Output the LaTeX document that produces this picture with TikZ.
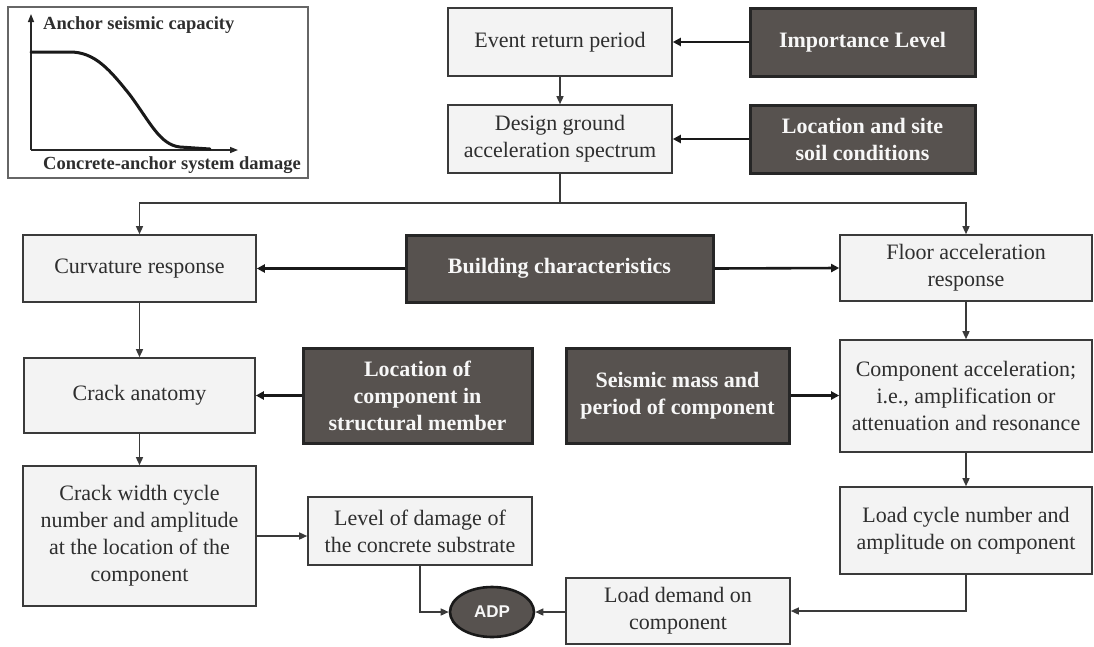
\documentclass[tikz,border=0pt]{standalone}
\usepackage{fontspec}
\setmainfont{Liberation Serif}
\newfontfamily\adpfont{Liberation Sans}
\usetikzlibrary{arrows.meta,shapes.geometric}
\definecolor{lightfill}{HTML}{F3F3F3}
\definecolor{darkfill}{HTML}{57524F}
\definecolor{linegray}{HTML}{3A3A3A}
\definecolor{txtgray}{HTML}{2E2E2E}
\definecolor{whitetxt}{HTML}{F7F7F7}
\tikzset{
  lbox/.style={draw=linegray, line width=1.6pt, fill=lightfill, text=txtgray, align=center,
    inner sep=0pt, font=\fontsize{22}{27}\selectfont},
  dbox/.style={draw=black!85, line width=3pt, fill=darkfill, text=whitetxt, align=center,
    inner sep=0pt, font=\bfseries\fontsize{22}{27}\selectfont},
  thinarr/.style={draw=linegray, line width=1.4pt, -{Triangle[length=8pt,width=7pt]}},
  thinline/.style={draw=linegray, line width=1.4pt},
  thickarr/.style={draw=black!90, line width=2.6pt, -{Triangle[length=8pt,width=8pt]}},
}
\begin{document}
\begin{tikzpicture}[x=1pt,y=-1pt]
\useasboundingbox (0,0) rectangle (1094,646);
% inset chart
\draw[draw=black!60, line width=1.5pt] (8,7) rectangle (308,178);
\coordinate (o) at (31,150);
\coordinate (ytop) at (31,14);
\coordinate (xend) at (238,150);
\draw[black!85, line width=1.4pt, -{Triangle[length=8pt,width=6pt]}] (o) -- (ytop);
\draw[black!85, line width=1.4pt, -{Triangle[length=8pt,width=6pt]}] (o) -- (xend);
\draw[black!90, line width=3pt, line cap=round] (31,52) -- (70,52) .. controls (95,52) and (110,70) .. (130,95) .. controls (150,122) and (160,145) .. (180,147) -- (210,149);
\node[anchor=west, inner sep=0pt, text=txtgray, font=\bfseries\fontsize{18.5}{22}\selectfont] (ylab) at (43,25) {Anchor seismic capacity};
\node[inner sep=0pt, text=txtgray, font=\bfseries\fontsize{18.5}{22}\selectfont] (xlab) at (172,165) {Concrete-anchor system damage};

% boxes
\node[lbox, minimum width=224pt, minimum height=68pt] (ev) at (560,42) {Event return period};
\node[dbox, minimum width=225pt, minimum height=68pt] (imp) at (862.5,42) {Importance Level};
\node[lbox, minimum width=224pt, minimum height=68pt] (dg) at (560,139) {Design ground\\acceleration spectrum};
\node[dbox, minimum width=225pt, minimum height=68pt] (loc) at (862.5,139) {Location and site\\soil conditions};
\node[lbox, minimum width=233pt, minimum height=67pt] (cur) at (139.5,268.5) {Curvature response};
\node[dbox, minimum width=307pt, minimum height=67pt] (bld) at (559.5,268.5) {Building characteristics};
\node[lbox, minimum width=252pt, minimum height=66pt] (flr) at (966,268) {Floor acceleration\\response};
\node[lbox, minimum width=231pt, minimum height=75pt] (ca) at (139.5,395.5) {Crack anatomy};
\node[dbox, minimum width=229pt, minimum height=95pt] (lcm) at (417.5,395.5) {Location of\\component in\\structural member};
\node[dbox, minimum width=223pt, minimum height=95pt] (smp) at (677.5,395.5) {Seismic mass and\\period of component};
\node[lbox, minimum width=252pt, minimum height=112pt] (cac) at (966,396) {Component acceleration;\\i.e., amplification or\\attenuation and resonance};
\node[lbox, minimum width=233pt, minimum height=140pt] (cw) at (139.5,536) {Crack width cycle\\number and amplitude\\at the location of the\\component};
\node[lbox, minimum width=224pt, minimum height=68pt] (lod) at (420,531) {Level of damage of\\the concrete substrate};
\node[lbox, minimum width=252pt, minimum height=87pt] (lcn) at (966,530.5) {Load cycle number and\\amplitude on component};
\node[lbox, minimum width=224pt, minimum height=66pt] (ld) at (678,611) {Load demand on\\component};
\node[ellipse, draw=black!90, line width=2.6pt, fill=darkfill, text=whitetxt, inner sep=0pt,
  minimum width=84pt, minimum height=50pt, font=\adpfont\bfseries\fontsize{17}{20}\selectfont] (adp) at (492,612) {ADP};

% connectors
\draw[thickarr] (imp.west) -- (ev.east);
\draw[thickarr] (loc.west) -- (dg.east);
\draw[thinarr] (ev.south) -- (dg.north);
\coordinate (j) at (560,203);
\draw[thinline] (dg.south) -- (j);
\draw[thinarr] (j) -| (cur.north);
\draw[thinarr] (j) -| (flr.north);
\draw[thickarr] (bld.west) -- (cur.east);
\draw[thickarr] (bld.east) -- (flr.west);
\draw[thinarr] (cur.south) -- (ca.north);
\draw[thickarr] (lcm.west) -- (ca.east);
\draw[thickarr] (smp.east) -- (smp.east -| cac.west);
\draw[thinarr] (flr.south) -- (cac.north);
\draw[thinarr] (ca.south) -- (cw.north);
\draw[thinarr] (cw.east) -- (cw.east -| lod.west);
\draw[thinarr] (cac.south) -- (lcn.north);
\draw[thinarr] (lcn.south) |- (ld.east);
\draw[thinarr] (lod.south) |- (adp.west);
\draw[thinarr] (ld.west |- adp.east) -- (adp.east);
\end{tikzpicture}
\end{document}
